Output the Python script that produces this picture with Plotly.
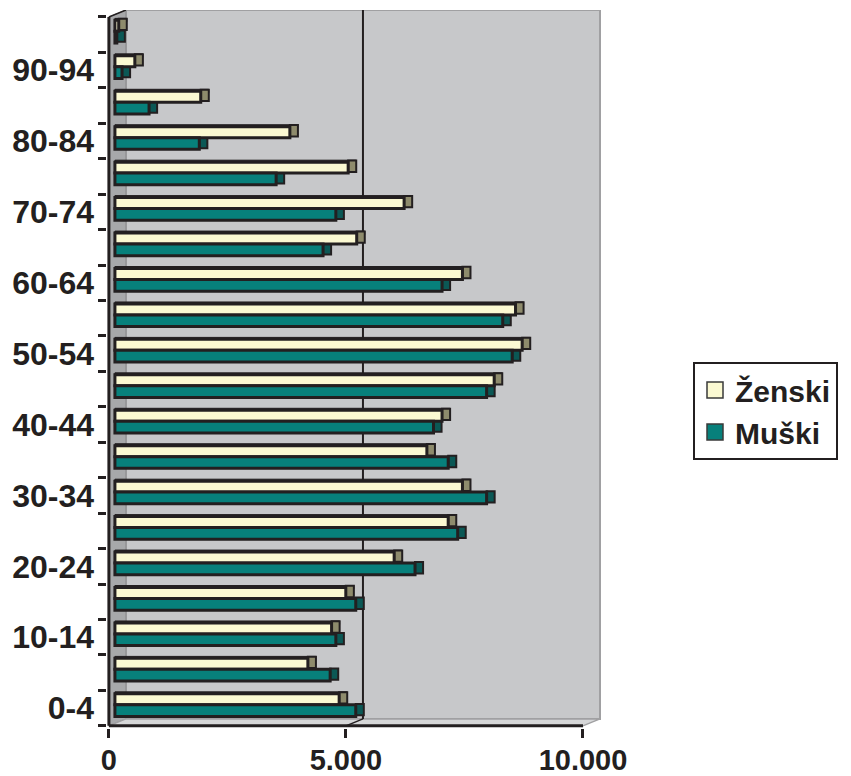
import plotly.graph_objects as go

# ---- data (bottom to top) ----
age_groups = ['0-4', '5-9', '10-14', '15-19', '20-24', '25-29', '30-34', '35-39',
              '40-44', '45-49', '50-54', '55-59', '60-64', '65-69', '70-74',
              '75-79', '80-84', '85-89', '90-94', '95+']
zenski = [4730, 4070, 4570, 4870, 5890, 7030, 7330, 6580, 6900, 8000,
          8590, 8450, 7330, 5100, 6100, 4920, 3690, 1810, 420, 80]
muski = [5080, 4540, 4660, 5080, 6330, 7230, 7840, 7030, 6720, 7840,
         8380, 8180, 6900, 4390, 4660, 3400, 1780, 720, 150, 40]
x_tick_vals = [0, 5000, 10000]
x_tick_text = ['0', '5.000', '10.000']

# ---- style constants (3D look) ----
DEPTH_X = 359      # back-wall shift in x units
DEPTH_Y = 0.197    # back-wall shift in category units
BAR_SHIFT = 127    # front face of bars sits a bit behind the front axis
CAP = 170          # side-face width
XMAX_AX = 10000
DARK = '#231f20'
FONT = 'Liberation Sans'
C_Z = '#fbf9d2'
C_M = '#07807b'
C_Z_SIDE = '#8e8b6c'
C_M_SIDE = '#0b5855'

# page offset of the plot div (browser body margin)
PAGE = 8
W, H = 851 - PAGE, 776 - PAGE

n = len(age_groups)
ys = list(range(n))
top = n - 0.5

fig = go.Figure()

# top faces + side faces (drawn first, under the bar fronts)
fig.add_trace(go.Bar(y=ys, x=[v + CAP for v in zenski], base=[BAR_SHIFT] * n,
                     orientation='h', offset=0.36, width=0.10,
                     marker=dict(color=DARK, line=dict(color=DARK, width=1)),
                     showlegend=False, hoverinfo='skip'))
fig.add_trace(go.Bar(y=ys, x=[CAP] * n, base=[BAR_SHIFT + v for v in zenski],
                     orientation='h', offset=0.13, width=0.32,
                     marker=dict(color=C_Z_SIDE, line=dict(color=DARK, width=2)),
                     showlegend=False, hoverinfo='skip'))
fig.add_trace(go.Bar(y=ys, x=[CAP] * n, base=[BAR_SHIFT + v for v in muski],
                     orientation='h', offset=-0.20, width=0.32,
                     marker=dict(color=C_M_SIDE, line=dict(color=DARK, width=2)),
                     showlegend=False, hoverinfo='skip'))
# front faces
fig.add_trace(go.Bar(y=ys, x=zenski, base=[BAR_SHIFT] * n, name='Ženski',
                     orientation='h', offset=0.095, width=0.31,
                     showlegend=False,
                     marker=dict(color=C_Z, line=dict(color=DARK, width=3))))
fig.add_trace(go.Bar(y=ys, x=muski, base=[BAR_SHIFT] * n, name='Muški',
                     orientation='h', offset=-0.235, width=0.33,
                     showlegend=False,
                     marker=dict(color=C_M, line=dict(color=DARK, width=3))))

# legend entries (bigger square swatches)
for name, col, grp in [('Ženski', C_Z, 'z'), ('Muški', C_M, 'm')]:
    fig.add_trace(go.Scatter(x=[None], y=[None], mode='markers', name=name,
                             legendgroup=grp,
                             marker=dict(symbol='square', size=18, color=col,
                                         line=dict(color='#3a3a3a', width=1.5))))

by = -0.5 + DEPTH_Y
shapes = [
    # back wall
    dict(type='rect', x0=DEPTH_X, x1=XMAX_AX + DEPTH_X, y0=by, y1=top + DEPTH_Y,
         fillcolor='#c7c8ca', line=dict(color='#a0a0a2', width=2), layer='below'),
    # left side wall
    dict(type='path', path=f'M 0,-0.5 L {DEPTH_X},{by} L {DEPTH_X},{top + DEPTH_Y} L 0,{top} Z',
         fillcolor='#a7a8aa', line=dict(color='#8d8d8f', width=1), layer='below'),
    # floor
    dict(type='path', path=f'M 0,-0.5 L {XMAX_AX},-0.5 L {XMAX_AX + DEPTH_X},{by} L {DEPTH_X},{by} Z',
         fillcolor='#d6d7d8', line=dict(color='#a0a0a2', width=1.5), layer='below'),
    # gridline 5000 on back wall + floor
    dict(type='line', x0=5000 + DEPTH_X, x1=5000 + DEPTH_X, y0=by, y1=top + DEPTH_Y,
         line=dict(color=DARK, width=2), layer='below'),
    dict(type='line', x0=5000, x1=5000 + DEPTH_X, y0=-0.5, y1=by,
         line=dict(color=DARK, width=1.5), layer='below'),
    # front axes
    dict(type='line', x0=0, x1=0, y0=-0.5, y1=top, line=dict(color=DARK, width=3), layer='below'),
    dict(type='line', x0=0, x1=DEPTH_X, y0=top, y1=top + DEPTH_Y,
         line=dict(color=DARK, width=1.5), layer='below'),
    dict(type='line', x0=0, x1=XMAX_AX, y0=-0.5, y1=-0.5, line=dict(color=DARK, width=3), layer='below'),
]
fig.update_layout(shapes=shapes)

fig.update_layout(
    width=W, height=H,
    margin=dict(l=99, r=W - 99 - 494, t=2, b=H - 2 - 718, autoexpand=False),
    paper_bgcolor='white', plot_bgcolor='white',
    barmode='overlay',
    font=dict(family=FONT, color=DARK),
    xaxis=dict(range=[-40, XMAX_AX + DEPTH_X + 21], tickvals=x_tick_vals, ticktext=x_tick_text,
               ticks='outside', ticklen=9, tickwidth=2.5, tickcolor=DARK,
               showgrid=False, zeroline=False, showline=False, automargin=False,
               ticklabelstandoff=-3,
               tickfont=dict(size=29, family=FONT, color=DARK, weight=700)),
    yaxis=dict(range=[-0.56, top + DEPTH_Y], tickvals=ys[::2], ticktext=age_groups[::2],
               ticks='', showgrid=False, zeroline=False, showline=False, automargin=False,
               ticklabelstandoff=12,
               tickfont=dict(size=32, family=FONT, color=DARK, weight=700),
               minor=dict(ticks='outside', tick0=0.5, dtick=1, ticklen=8, tickwidth=2.5,
                          tickcolor=DARK, showgrid=False)),
    legend=dict(xref='container', yref='container',
                x=(693 - PAGE) / W, y=1 - (362 - PAGE) / H,
                xanchor='left', yanchor='top',
                bordercolor=DARK, borderwidth=2, bgcolor='white',
                font=dict(size=30, family=FONT, color=DARK, weight=700),
                itemwidth=30, traceorder='normal', tracegroupgap=10),
    showlegend=True,
)

fig.write_html('out.html')
